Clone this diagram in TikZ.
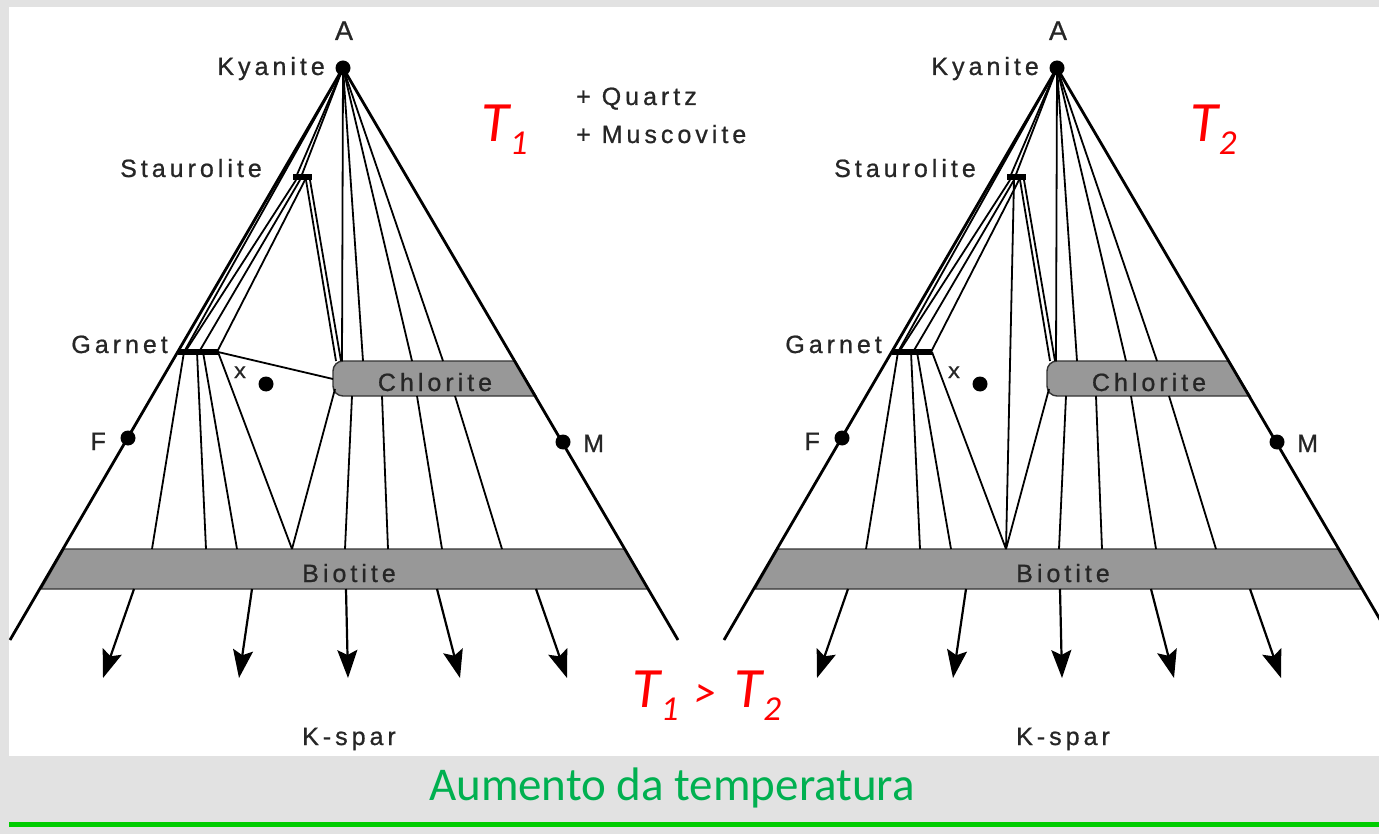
\documentclass[tikz,border=0pt]{standalone}
\usepackage{fontspec}
\setmainfont{Liberation Sans}[LetterSpace=16, FakeBold=0.8]
\newfontfamily\calib{Carlito}
\newfontfamily\monox{Liberation Mono}[FakeBold=1]
\usetikzlibrary{arrows.meta}
\definecolor{panelgray}{RGB}{226,226,226}
\definecolor{bandgray}{RGB}{152,152,152}
\definecolor{tred}{RGB}{255,0,0}
\definecolor{tgreen}{RGB}{0,176,80}
\definecolor{lgreen}{RGB}{0,204,0}
\newcommand{\tlab}[1]{T\kern1pt\raisebox{-13pt}{\fontsize{35}{35}\selectfont #1}}

\begin{document}
\begin{tikzpicture}[x=1pt, y=-1pt,
    lbl/.style={font=\fontsize{25}{29}\selectfont, text=black!85, inner sep=0pt},
    redlbl/.style={font=\calib\itshape\fontsize{57}{60}\selectfont, text=tred, inner sep=0pt},
    side/.style={line width=2.8pt},
    tie/.style={line width=1.8pt},
    band/.style={fill=bandgray, draw=black!80, line width=1.4pt},
    bar/.style={line width=6.5pt},
    dot/.style={circle, fill=black, inner sep=0pt, minimum size=15pt},
    arr/.style={-{Stealth[length=28pt, width=20pt, inset=5pt]}, line width=2.2pt}
]
\fill[panelgray] (0,0) rectangle (1379,834);
\fill[white] (9,7) rectangle (1379,756);
\clip (0,0) rectangle (1379,834);

% the two triangles, T1 left and T2 right
\foreach \n/\dx in {1/0, 2/714} {
  \begin{scope}[xshift=\dx pt]
    % biotite and chlorite bands
    \filldraw[band] (64,549) -- (625,549) -- (648,589) -- (41,589) -- cycle;
    \filldraw[band] (536,396) -- (515,361) {[rounded corners=10pt] -- (333,361) -- (333,396)} -- cycle;
    \coordinate (kya\n) at (343,68);
    % tie lines from kyanite
    \foreach \a/\b in {184/352, 296/177, 301/177, 342/361, 363/361, 412/361, 443/361}
      \draw[tie] (kya\n) -- (\a,\b);
    % staurolite
    \foreach \a/\b in {296/185, 300/199, 305/217}
      \draw[tie] (\a,180) -- (\b,352);
    \foreach \a/\b in {306/336, 310/341}
      \draw[tie] (\a,180) -- (\b,361);
    % garnet
    \foreach \a/\b in {184/152, 197/206, 203/237, 218/292}
      \draw[tie] (\a,352) -- (\b,549);
    % chlorite
    \draw[tie] (335,389) -- (292,549);
    \foreach \a/\b in {352/345, 382/388, 417/442, 455/502}
      \draw[tie] (\a,396) -- (\b,549);
    \ifnum\n=1
      \draw[tie] (218,352) -- (333,379);
    \else
      \draw[tie] (300,180) -- (292,549);
    \fi
    % towards K-spar
    \foreach \a/\b in {134/103, 252/239, 346/348, 437/460, 536/567}
      \draw[arr] (\a,589) -- (\b,678);
    \draw[side] (10,640) -- (kya\n) -- (678,640);
    \draw[bar] (293,177) -- (312,177);
    \draw[bar] (178,352) -- (218,352);
    \node[dot] at (kya\n) {};
    \node[dot] (f\n) at (128,438) {};
    \node[dot] (m\n) at (563,442) {};
    \node[dot] (x\n) at (266,384) {};
    % labels
    \node[lbl, font=\fontsize{27}{30}\selectfont, anchor=base] (a\n) at (344,40) {A};
    \node[lbl, anchor=base east] (kyl\n) at (325,75) {Kyanite};
    \node[lbl, anchor=base east] (stl\n) at (262,177) {Staurolite};
    \node[lbl, anchor=base east] (gal\n) at (168,353) {Garnet};
    \node[lbl, anchor=base east] (fl\n) at (106,450) {F};
    \node[lbl, anchor=base west] (ml\n) at (583,452) {M};
    \node[lbl, font=\monox\fontsize{22}{24}\selectfont, anchor=base] (xl\n) at (240,378) {x};
    \node[lbl, anchor=base] (chl\n) at (435,391) {Chlorite};
    \node[lbl, anchor=base] (bio\n) at (349,582) {Biotite};
    \node[lbl, anchor=base] (ksp\n) at (349,745) {K-spar};
  \end{scope}
}

\node[lbl, anchor=base west] (qtz) at (576,105) {+ Quartz};
\node[lbl, anchor=base west] (mus) at (576,143) {+ Muscovite};
\node[redlbl, anchor=base west] (t1) at (481,142) {\tlab{1}};
\node[redlbl, anchor=base west] (t2) at (1190,142) {\tlab{2}};
\node[redlbl, anchor=base west] (tcmp) at (632,707)
  {\tlab{1}\hspace{16pt}{\fontsize{44}{44}\selectfont >}\hspace{18pt}\tlab{2}};

\node[font=\calib\fontsize{47}{50}\selectfont, text=tgreen, anchor=base, inner sep=0pt] (title) at (672,800) {Aumento da temperatura};
\coordinate (gl) at (9,824);
\coordinate (gr) at (1379,824);
\draw[lgreen, line width=5pt] (gl) -- (gr);
\end{tikzpicture}
\end{document}
